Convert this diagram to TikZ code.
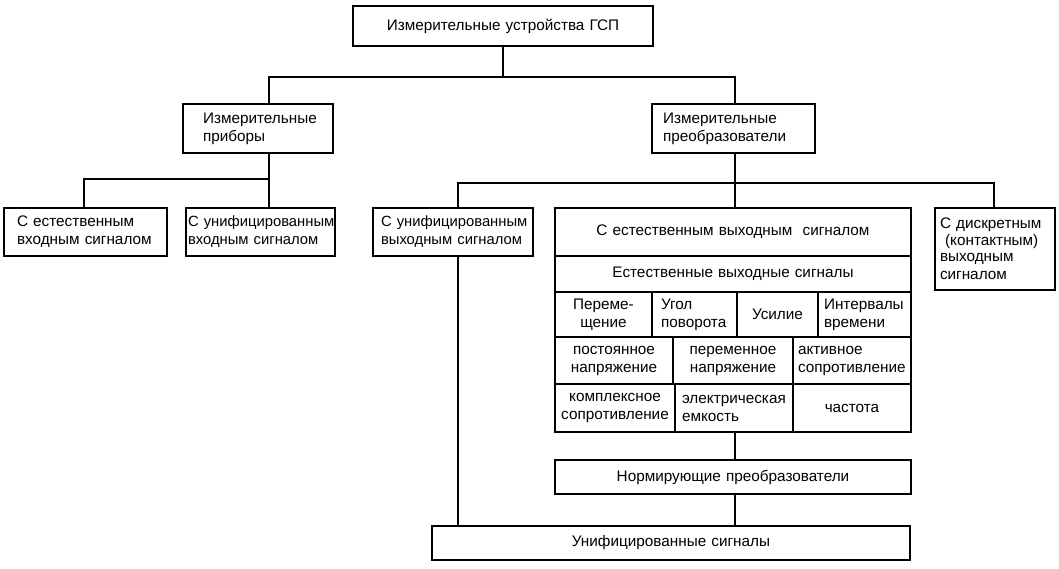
\documentclass[tikz,border=0pt]{standalone}
\usepackage{fontspec}
\setmainfont{Liberation Sans}
\newcommand\fs{\fontsize{15.3}{18}\selectfont}
\newcommand\fsn{\fontsize{14.8}{18}\selectfont}
\newcommand\fsd{\fontsize{15.3}{16.5}\selectfont}
\tikzset{
  bx/.style={draw, line width=1.5pt, inner ysep=0pt, font=\fs},
  ln/.style={line width=1.3pt}
}
% \bx{name}{x1}{y1}{x2}{y2}{pad}{align}{text}
\newcommand\bx[8]{%
  \pgfmathsetmacro\bw{#4-#2}%
  \pgfmathsetmacro\bh{#5-#3}%
  \pgfmathsetmacro\bcx{(#2+#4)/2}%
  \pgfmathsetmacro\bcy{(#3+#5)/2}%
  \pgfmathsetmacro\tw{#4-#2-2*#6}%
  \node[bx, minimum width=\bw pt, minimum height=\bh pt, inner xsep=#6pt,
        text width=\tw pt, align=#7] (#1) at (\bcx,\bcy) {#8};}
\begin{document}
\begin{tikzpicture}[x=1pt,y=-1pt]
\useasboundingbox (0,0) rectangle (1059,569);
\bx{top}{353}{6}{653}{46}{8}{center}{Измерительные устройства ГСП}
\bx{pribor}{183}{104}{333}{153}{20}{left}{Измерительные\\приборы}
\bx{preob}{652}{104}{815}{153}{11}{left}{Измерительные\\преобразователи}
\bx{b1}{4}{208}{167}{256}{13}{left}{С~естественным\\входным~сигналом}
\bx{b2}{186}{208}{335}{256}{2}{left}{\fsn С~унифицированным\\входным~сигналом}
\bx{uv}{373}{208}{533}{256}{8}{left}{\fsn С~унифицированным\\выходным~сигналом}
\bx{disc}{935}{208}{1055}{290}{5}{left}{\fsd С~дискретным\\\ (контактным)\\выходным\\сигналом}
\bx{big}{555}{208}{911}{432}{4}{center}{}
\bx{r1}{555}{208}{911}{256}{4}{center}{С естественным выходным\ \ сигналом}
\bx{r2}{555}{256}{911}{292}{4}{center}{Естественные выходные сигналы}
\bx{c31}{555}{292}{652}{337}{4}{center}{Переме-\\щение}
\bx{c32}{652}{292}{737}{337}{9}{left}{Угол\\поворота}
\bx{c33}{737}{292}{818}{337}{4}{center}{Усилие}
\bx{c34}{818}{292}{911}{337}{6}{left}{Интервалы\\времени}
\bx{c41}{555}{337}{673}{384}{4}{center}{постоянное\\напряжение}
\bx{c42}{673}{337}{793}{384}{4}{center}{переменное\\напряжение}
\bx{c43}{793}{337}{911}{384}{5}{left}{активное\\сопротивление}
\bx{c51}{555}{384}{675}{432}{3}{center}{комплексное\\сопротивление}
\bx{c52}{675}{384}{793}{432}{7}{left}{электрическая\\емкость}
\bx{c53}{793}{384}{911}{432}{4}{center}{частота}
\bx{norm}{555}{460}{911}{494}{4}{center}{Нормирующие преобразователи}
\bx{us}{432}{526}{910}{560}{4}{center}{Унифицированные сигналы}
% junctions
\coordinate (h1L) at (269,77);
\coordinate (h1R) at (735,77);
\coordinate (h2L) at (84,179);
\coordinate (h2R) at (269,179);
\coordinate (h3L) at (458,183);
\coordinate (h3M) at (735,183);
\coordinate (h3R) at (994,183);
% connectors
\draw[ln] (top.south) -- (top.south |- h1L);
\draw[ln] (h1L |- pribor.north) -- (h1L) -- (h1R) -- (h1R |- preob.north);
\draw[ln] (h2R |- pribor.south) -- (h2R |- b2.north);
\draw[ln] (h2R) -- (h2L) -- (h2L |- b1.north);
\draw[ln] (h3M |- preob.south) -- (h3M |- big.north);
\draw[ln] (h3L |- uv.north) -- (h3L) -- (h3R) -- (h3R |- disc.north);
\draw[ln] (h3L |- uv.south) -- (h3L |- us.north);
\draw[ln] (h3M |- big.south) -- (h3M |- norm.north);
\draw[ln] (h3M |- norm.south) -- (h3M |- us.north);
\end{tikzpicture}
\end{document}
